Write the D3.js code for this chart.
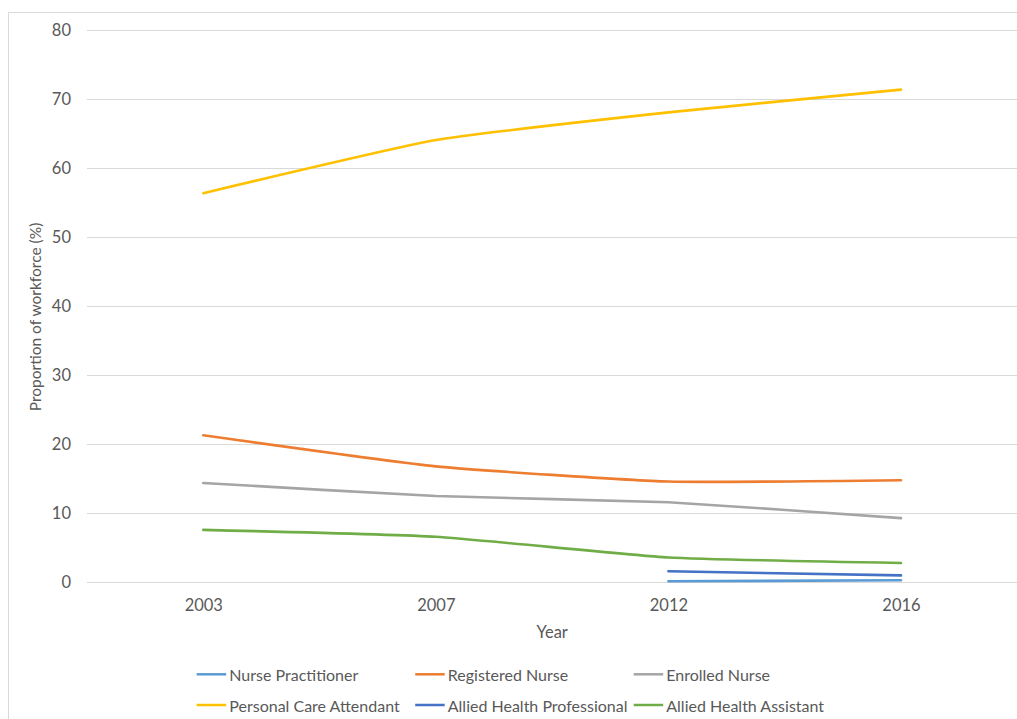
<!DOCTYPE html>
<html>
<head>
<meta charset="utf-8">
<script src="https://cdn.jsdelivr.net/npm/d3@7"></script>
<style>
  html, body { margin: 0; padding: 0; background: #fff; }
  svg { display: block; }
  text { font-family: Lato, "Open Sans", sans-serif; fill: #595959; }
</style>
</head>
<body>
<svg id="chart" width="1017" height="719"></svg>
<script>
const years = ["2003", "2007", "2012", "2016"];
const nursePractitioner = [null, null, 0.15, 0.3];
const registeredNurse = [21.3, 16.8, 14.6, 14.8];
const enrolledNurse = [14.4, 12.5, 11.6, 9.3];
const personalCareAttendant = [56.4, 64.1, 68.1, 71.4];
const alliedHealthProfessional = [null, null, 1.6, 1.0];
const alliedHealthAssistant = [7.6, 6.6, 3.6, 2.8];
const yTicks = [0, 10, 20, 30, 40, 50, 60, 70, 80];
const seriesNames = ["Nurse Practitioner", "Registered Nurse", "Enrolled Nurse",
  "Personal Care Attendant", "Allied Health Professional", "Allied Health Assistant"];
const seriesColors = ["#5B9BD5", "#ED7D31", "#A5A5A5", "#FFC000", "#4472C4", "#70AD47"];
const seriesValues = [nursePractitioner, registeredNurse, enrolledNurse,
  personalCareAttendant, alliedHealthProfessional, alliedHealthAssistant];

const svg = d3.select("#chart");
const plotLeft = 87, plotRight = 1017.3, plotTop = 30.3, plotBottom = 582.3;

// chart border
svg.append("rect").attr("x", 8.5).attr("y", 12.5).attr("width", 1030).attr("height", 730)
  .attr("fill", "none").attr("stroke", "#D9D9D9").attr("stroke-width", 1);

const x = d3.scalePoint().domain(years).range([plotLeft, plotRight]).padding(0.5);
const y = d3.scaleLinear().domain([0, 80]).range([plotBottom, plotTop]);

// gridlines
svg.append("g").selectAll("line").data(yTicks).join("line")
  .attr("x1", plotLeft).attr("x2", plotRight)
  .attr("y1", d => Math.round(y(d)) + 0.5).attr("y2", d => Math.round(y(d)) + 0.5)
  .attr("stroke", "#D9D9D9").attr("stroke-width", 1);

// y axis labels
const yAxis = d3.axisLeft(y).tickValues(yTicks).tickSize(0).tickPadding(0);
const gy = svg.append("g").attr("transform", `translate(71,0)`).call(yAxis);
gy.select(".domain").remove();
gy.selectAll("text").attr("font-size", "16.5px").style("font-family", "Lato, sans-serif").attr("fill", "#595959");

// x axis labels
const xAxis = d3.axisBottom(x).tickSize(0).tickPadding(0);
const gx = svg.append("g").attr("transform", `translate(0,${plotBottom})`).call(xAxis);
gx.select(".domain").remove();
gx.selectAll("text").attr("font-size", "16.5px").style("font-family", "Lato, sans-serif")
  .attr("dy", null).attr("y", 23)
  .attr("dominant-baseline", "central").attr("fill", "#595959");

// axis titles
svg.append("text").attr("x", (plotLeft + plotRight) / 2).attr("y", 632)
  .attr("text-anchor", "middle").attr("dominant-baseline", "central")
  .attr("font-size", "16.5px").text("Year");
svg.append("text").attr("transform", "translate(35,317) rotate(-90)")
  .attr("text-anchor", "middle").attr("dominant-baseline", "central")
  .attr("font-size", "15.5px").text("Proportion of workforce (%)");

// lines
const line = d3.line()
  .defined(d => d.v !== null)
  .x(d => x(d.year)).y(d => y(d.v))
  .curve(d3.curveCardinal.tension(0.55));

seriesValues.forEach((vals, i) => {
  const data = years.map((yr, j) => ({ year: yr, v: vals[j] }));
  svg.append("path").datum(data)
    .attr("d", line)
    .attr("fill", "none")
    .attr("stroke", seriesColors[i])
    .attr("stroke-width", 2.6)
    .attr("stroke-linecap", "round");
});

// legend
const legendCols = [196.7, 415.2, 633.7];
const legendRows = [674.3, 705];
const legend = svg.append("g");
seriesNames.forEach((name, i) => {
  const cx = legendCols[i % 3], cy = legendRows[Math.floor(i / 3)];
  legend.append("line").attr("x1", cx).attr("x2", cx + 29.5)
    .attr("y1", cy).attr("y2", cy)
    .attr("stroke", seriesColors[i]).attr("stroke-width", 2.5);
  legend.append("text").attr("x", cx + 32.6).attr("y", cy)
    .attr("dominant-baseline", "central").attr("font-size", "16px").text(name);
});
</script>
</body>
</html>
